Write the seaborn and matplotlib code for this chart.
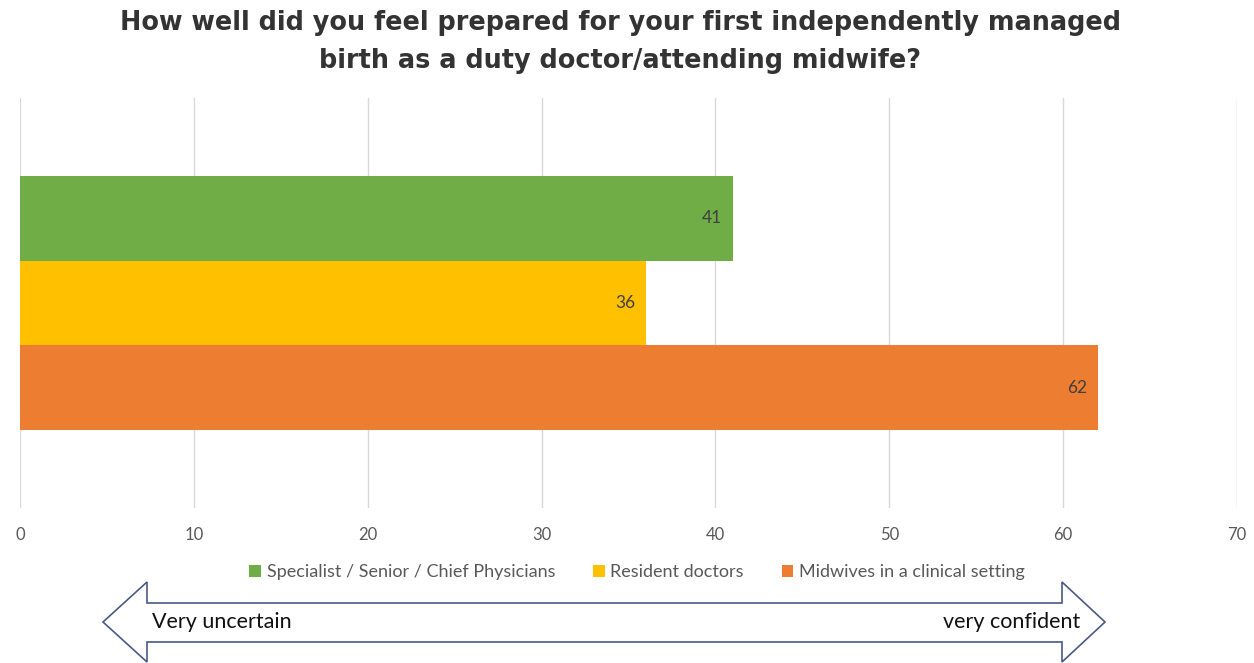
import matplotlib
matplotlib.use("Agg")
import matplotlib.pyplot as plt
from matplotlib.patches import Polygon
import seaborn as sns
import pandas as pd

# Data
groups = ["Specialist / Senior / Chief Physicians", "Resident doctors", "Midwives in a clinical setting"]
values = [41, 36, 62]
colors = ["#70AD47", "#FFC000", "#ED7D31"]
category = ["Preparedness"] * 3
xticks = [0, 10, 20, 30, 40, 50, 60, 70]
title = "How well did you feel prepared for your first independently managed\nbirth as a duty doctor/attending midwife?"
left_label = "Very uncertain"
right_label = "very confident"

df = pd.DataFrame({"category": category, "group": groups, "value": values})

sns.set_theme(style="white")
plt.rcParams["font.family"] = ["Lato", "DejaVu Sans"]

W, H = 1254, 663
fig = plt.figure(figsize=(W / 100, H / 100), dpi=100)
ax = fig.add_axes([20 / W, 1 - 508 / H, (1237 - 20) / W, (508 - 98) / H])

sns.barplot(data=df, x="value", y="category", hue="group", hue_order=groups,
            palette=colors, orient="h", width=0.62, ax=ax, legend=True,
            saturation=1, linewidth=0)

ax.set_xlim(0, 70)
ax.set_xticks(xticks)
ax.set_xticklabels([str(t) for t in xticks], color="#595959", fontsize=12)
ax.tick_params(axis="x", length=0, pad=14)
ax.set_yticks([])
ax.set_xlabel("")
ax.set_ylabel("")
for s in ax.spines.values():
    s.set_visible(False)
ax.grid(axis="x", color="#D9D9D9", linewidth=1)
ax.set_axisbelow(True)

for cont in ax.containers:
    ax.bar_label(cont, padding=-22, color="#404040", fontsize=12.5)

handles, labels = ax.get_legend_handles_labels()
ax.get_legend().remove()
fig.legend(handles, labels, loc="center", bbox_to_anchor=(637 / W, 1 - 572 / H),
           ncol=3, frameon=False, fontsize=13, handlelength=0.65, handleheight=0.65,
           handletextpad=0.3, columnspacing=2.1, labelcolor="#595959")

fig.text(620 / W, 1 - 42 / H, title, ha="center", va="center", fontsize=18.4,
         fontweight="bold", color="#333333", family=["DejaVu Sans"], linespacing=1.55)

# Double-headed block arrow
pts = [(103, 622), (147, 582), (147, 603), (1062, 603), (1062, 582), (1105, 622),
       (1062, 662), (1062, 642), (147, 642), (147, 662)]
poly = Polygon([(x / W, 1 - y / H) for x, y in pts], closed=True, transform=fig.transFigure,
               facecolor="white", edgecolor="#4A5A85", linewidth=1.2, clip_on=False)
fig.add_artist(poly)
fig.text(152 / W, 1 - 622 / H, left_label, ha="left", va="center", fontsize=15.5, color="#111111")
fig.text(1080 / W, 1 - 622 / H, right_label, ha="right", va="center", fontsize=15.5, color="#111111")

fig.savefig("out.png", dpi=100, facecolor="white")
